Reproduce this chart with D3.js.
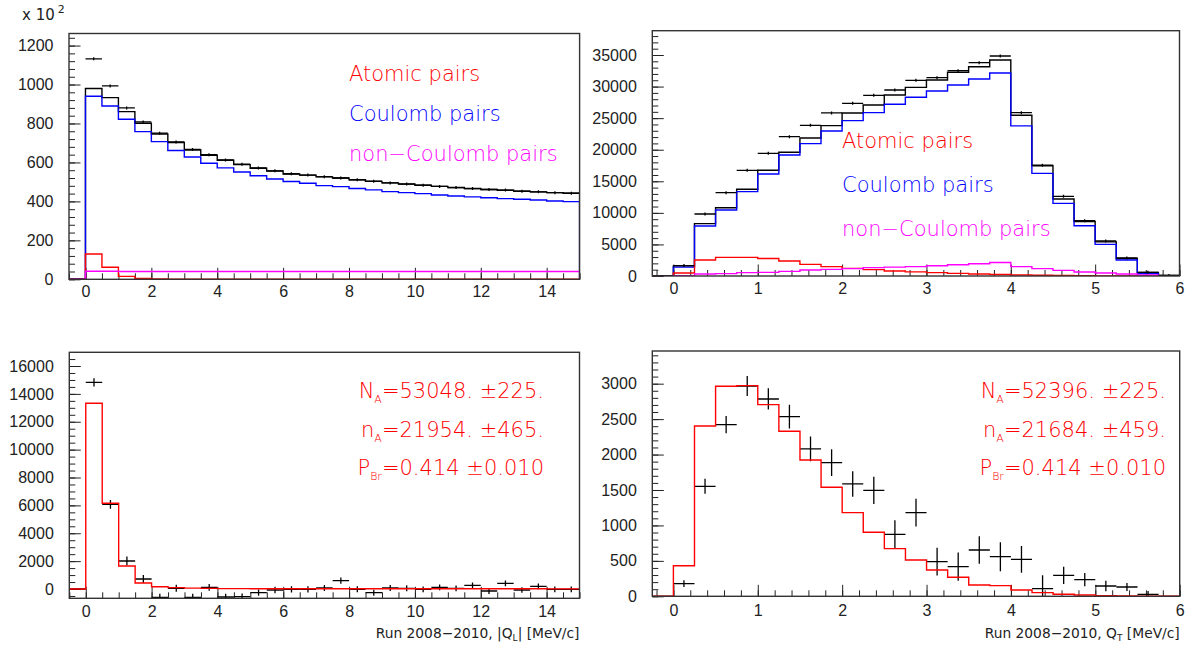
<!DOCTYPE html>
<html>
<head>
<meta charset="utf-8">
<script src="https://cdn.jsdelivr.net/npm/d3@7"></script>
<style>
body { margin: 0; background: #fff; }
svg { display: block; }
text { font-family: "Liberation Sans", Arial, sans-serif; }
.big { font-family: "DejaVu Sans", sans-serif; font-weight: 200; }
.small { font-family: "DejaVu Sans", sans-serif; }
</style>
</head>
<body>
<div id="chart"></div>
<script>
// bin edges (MeV/c)
const qlEdges = [-0.5,0,0.5,1,1.5,2,2.5,3,3.5,4,4.5,5,5.5,6,6.5,7,7.5,8,8.5,9,9.5,10,10.5,11,11.5,12,12.5,13,13.5,14,14.5,15];
const qtEdges = [-0.25,0,0.25,0.5,0.75,1,1.25,1.5,1.75,2,2.25,2.5,2.75,3,3.25,3.5,3.75,4,4.25,4.5,4.75,5,5.25,5.5,5.75,6];

// tick labels
const qlTicks = [0,2,4,6,8,10,12,14];
const qtTicks = [0,1,2,3,4,5,6];
const tlYTicks = [0,200,400,600,800,1000,1200];
const trYTicks = [0,5000,10000,15000,20000,25000,30000,35000];
const blYTicks = [0,2000,4000,6000,8000,10000,12000,14000,16000];
const brYTicks = [0,500,1000,1500,2000,2500,3000];

// top left, |Q_L| (units of 10^2)
const qlData     = [0,1132,993,880,808,750,705,667,640,613,591,572,557,542,535,527,520,511,504,495,489,483,477,471,466,461,458,452,449,445,442];
const qlSum      = [0,980,933,861,801,746,702,664,637,611,589,570,556,541,535,526,520,511,503,495,489,483,477,471,466,461,457,452,449,445,442];
const qlCoulomb  = [0,940,890,822,758,707,661,628,596,572,551,532,515,502,493,481,476,466,459,450,445,440,433,428,423,419,414,411,407,402,399];
const qlAtomic   = [0,130,62,15,5,2,1,1,0,0,0,0,0,0,0,0,0,0,0,0,0,0,0,0,0,0,0,0,0,0,0];
const qlNonCoul  = [0,41,41,40,40,40,40,40,40,40,40,40,40,40,40,40,40,40,40,40,40,40,40,40,40,40,40,40,40,40,40];

// top right, Q_T
const qtData     = [0,1650,9820,13200,16740,19430,22070,23860,25820,27350,28610,29460,30990,31410,32520,33790,34840,25870,17550,12620,8770,5540,2850,580,90];
const qtSum      = [0,1600,8290,10820,13730,16740,19590,21860,23810,25820,27080,28670,29880,31040,32260,33150,34210,25450,17470,12200,8630,5400,2780,560,80];
const qtCoulomb  = [0,1400,7920,10450,13360,16150,19160,20960,22970,24600,25870,27190,28300,29300,30250,31200,32150,23780,16260,11510,7950,5015,2534,400,40];
const qtAtomic   = [0,475,2534,2956,2956,2770,2375,1847,1478,1213,1002,792,660,530,420,317,240,160,110,70,45,25,15,8,0];
const qtNonCoul  = [0,50,317,370,530,580,739,950,1056,1161,1320,1400,1480,1620,1780,1930,2140,1478,1161,897,634,475,317,160,50];

// bottom left, |Q_L| residuals
const qlResid    = [0,14830,6074,2009,717,-598,48,-598,120,-574,-550,-263,-72,-24,-24,72,598,-24,-263,72,48,-24,120,48,263,-143,407,-72,191,-24,-24];
const qlResidErr = [0,300,320,320,280,260,250,250,240,240,230,230,225,225,220,220,220,215,215,215,215,210,210,210,210,210,210,205,205,205,205];
const qlAtomFit  = [0,13323,6148,1650,430,167,96,60,48,30,25,22,20,20,18,18,17,17,16,16,15,15,15,14,14,14,13,13,13,12,12];

// bottom right, Q_T residuals
const qtResid    = [0,178,1552,2422,2967,2784,2535,2079,1886,1585,1495,874,1180,489,418,653,559,522,108,296,235,145,131,28,0];
const qtResidErr = [0,47,105,122,141,150,169,174,188,180,193,198,195,195,200,195,204,188,190,122,94,75,56,47,0];
const qtAtomFit  = [0,432,2403,2963,2972,2704,2328,1923,1538,1180,903,672,512,371,268,160,150,89,52,28,18,9,5,3,2];

const width = 1192, height = 646;
const svg = d3.select("#chart").append("svg")
    .attr("width", width)
    .attr("height", height);

const legendLines = ["Atomic pairs", "Coulomb pairs", "non\u2212Coulomb pairs"];
const legendColors = ["#ff0000", "#0000ff", "#ff00ff"];

const panels = [
  { id: "tl", left: 69, right: 579.6, top: 33.5, bottom: 279.3,
    xDomain: [-0.5, 15], yDomain: [0, 1262], edges: qlEdges,
    xTicks: qlTicks, xMinor: 0.5, yTicks: tlYTicks, yMinor: 40, xPad: 6,
    hists: [[qlSum, "#000"], [qlCoulomb, "#0000ff"], [qlAtomic, "#ff0000"], [qlNonCoul, "#ff00ff"]],
    data: qlData, err: null, legend: { x: 349, y: 81, step: 40 } },
  { id: "tr", left: 652.3, right: 1179.5, top: 30.7, bottom: 276,
    xDomain: [-0.25, 6], yDomain: [0, 38850], edges: qtEdges,
    xTicks: qtTicks, xMinor: 0.2, yTicks: trYTicks, yMinor: 1000, xPad: 7,
    hists: [[qtSum, "#000"], [qtCoulomb, "#0000ff"], [qtAtomic, "#ff0000"], [qtNonCoul, "#ff00ff"]],
    data: qtData, err: null, legend: { x: 842, y: 147.5, step: 44.3 } },
  { id: "bl", left: 69.3, right: 579.5, top: 352.3, bottom: 598.3,
    xDomain: [-0.5, 15], yDomain: [-667, 16983], edges: qlEdges,
    xTicks: qlTicks, xMinor: 0.5, yTicks: blYTicks, yMinor: 500, xPad: 7,
    hists: [], after: [[qlAtomFit, "#ff0000"]],
    data: qlResid, err: qlResidErr,
    stats: { x: 544, y: 398, lines: [["N", "A", "=53048. \u00b1225."], ["n", "A", "=21954. \u00b1465."], ["P", "Br", "=0.414 \u00b10.010"]] },
    title: ["Run 2008\u22122010, |Q", "L", "| [MeV/c]"] },
  { id: "br", left: 652.3, right: 1179.7, top: 351, bottom: 596.3,
    xDomain: [-0.25, 6], yDomain: [0, 3461], edges: qtEdges,
    xTicks: qtTicks, xMinor: 0.2, yTicks: brYTicks, yMinor: 100, xPad: 8,
    hists: [], after: [[qtAtomFit, "#ff0000"]],
    data: qtResid, err: qtResidErr,
    stats: { x: 1166, y: 398, lines: [["N", "A", "=52396. \u00b1225."], ["n", "A", "=21684. \u00b1459."], ["P", "Br", "=0.414 \u00b10.010"]] },
    title: ["Run 2008\u22122010, Q", "T", " [MeV/c]"] }
];

function stepPath(edges, vals, x, y) {
  let d = `M${x(edges[0])},${y(vals[0])}`;
  for (let i = 0; i < vals.length; i++) {
    d += `H${x(edges[i + 1])}`;
    d += i < vals.length - 1 ? `V${y(vals[i + 1])}` : `V${y(0)}`;
  }
  return d;
}

function drawPanel(p) {
  const x = d3.scaleLinear().domain(p.xDomain).range([p.left, p.right]);
  const y = d3.scaleLinear().domain(p.yDomain).range([p.bottom, p.top]);
  const g = svg.append("g");

  g.append("clipPath").attr("id", "clip-" + p.id)
    .append("rect")
    .attr("x", p.left).attr("y", p.top)
    .attr("width", p.right - p.left).attr("height", p.bottom - p.top);

  // minor ticks first, major over them
  const xMinorVals = d3.range(Math.ceil(p.xDomain[0] / p.xMinor) * p.xMinor, p.xDomain[1] + 1e-9, p.xMinor);
  const yMinorVals = d3.range(Math.ceil(p.yDomain[0] / p.yMinor) * p.yMinor, p.yDomain[1], p.yMinor);

  g.append("g").attr("transform", `translate(0,${p.bottom})`)
    .call(d3.axisBottom(x).tickValues(xMinorVals).tickSize(-6).tickFormat(""))
    .call(a => a.select(".domain").remove());
  g.append("g").attr("transform", `translate(${p.left},0)`)
    .call(d3.axisLeft(y).tickValues(yMinorVals).tickSize(-6).tickFormat(""))
    .call(a => a.select(".domain").remove());

  const xAxis = g.append("g").attr("transform", `translate(0,${p.bottom})`)
    .call(d3.axisBottom(x).tickValues(p.xTicks).tickSize(-11.5).tickPadding(p.xPad).tickFormat(d3.format("d")));
  const yAxis = g.append("g").attr("transform", `translate(${p.left},0)`)
    .call(d3.axisLeft(y).tickValues(p.yTicks).tickSize(-11.5).tickPadding(15.5).tickFormat(d3.format("d")));
  [xAxis, yAxis].forEach(a => {
    a.select(".domain").remove();
    a.selectAll("text").attr("font-size", 16).attr("fill", "#222")
      .attr("font-family", "'Liberation Sans', Arial, sans-serif");
  });
  g.selectAll(".tick line").attr("stroke", "#222").attr("stroke-width", 1);

  const plot = g.append("g").attr("clip-path", `url(#clip-${p.id})`);

  p.hists.forEach(([vals, color]) => {
    plot.append("path")
      .attr("d", stepPath(p.edges, vals, x, y))
      .attr("fill", "none")
      .attr("stroke", color)
      .attr("stroke-width", 1.4);
  });

  // data points: horizontal bar over the bin plus error bar
  const pts = plot.append("g").attr("stroke", "#000").attr("stroke-width", 1.3);
  p.data.forEach((v, i) => {
    const x0 = x(p.edges[i]), x1 = x(p.edges[i + 1]), xc = (x0 + x1) / 2;
    pts.append("line").attr("x1", x0).attr("x2", x1).attr("y1", y(v)).attr("y2", y(v));
    if (p.err) {
      if (p.err[i] > 0) {
        pts.append("line").attr("x1", xc).attr("x2", xc)
          .attr("y1", y(v - p.err[i])).attr("y2", y(v + p.err[i]));
      }
    } else if (v > 0) {
      pts.append("line").attr("x1", xc).attr("x2", xc)
        .attr("y1", y(v) - 1.5).attr("y2", y(v) + 1.5);
    }
  });

  (p.after || []).forEach(([vals, color]) => {
    plot.append("path")
      .attr("d", stepPath(p.edges, vals, x, y))
      .attr("fill", "none")
      .attr("stroke", color)
      .attr("stroke-width", 1.4);
  });

  g.append("rect")
    .attr("x", p.left).attr("y", p.top)
    .attr("width", p.right - p.left).attr("height", p.bottom - p.top)
    .attr("fill", "none").attr("stroke", "#333").attr("stroke-width", 1.4);

  if (p.legend) {
    legendLines.forEach((t, i) => {
      g.append("text").attr("class", "big")
        .attr("x", p.legend.x).attr("y", p.legend.y + i * p.legend.step)
        .attr("font-size", 21).attr("fill", legendColors[i])
        .text(t);
    });
  }

  if (p.stats) {
    p.stats.lines.forEach((l, i) => {
      const t = g.append("text").attr("class", "big")
        .attr("x", p.stats.x).attr("y", p.stats.y + i * 38.5)
        .attr("text-anchor", "end").attr("font-size", 21).attr("fill", "#ff0000");
      t.append("tspan").text(l[0]);
      t.append("tspan").attr("font-size", 11).attr("dy", 5).text(l[1]);
      t.append("tspan").attr("dy", -5).text(l[2]);
    });
  }

  if (p.title) {
    const t = g.append("text").attr("class", "small")
      .attr("x", p.right).attr("y", 638)
      .attr("text-anchor", "end").attr("font-size", 13.8).attr("fill", "#222");
    t.append("tspan").text(p.title[0]);
    t.append("tspan").attr("font-size", 9).attr("dy", 3).text(p.title[1]);
    t.append("tspan").attr("dy", -3).text(p.title[2]);
  }
}

panels.forEach(drawPanel);

// exponent label of the top left axis
const expo = svg.append("text").attr("class", "small")
    .attr("x", 22).attr("y", 20).attr("font-size", 15).attr("fill", "#222");
expo.append("tspan").text("x 10");
expo.append("tspan").attr("font-size", 11).attr("dy", -7).attr("dx", 3).text("2");
</script>
</body>
</html>
